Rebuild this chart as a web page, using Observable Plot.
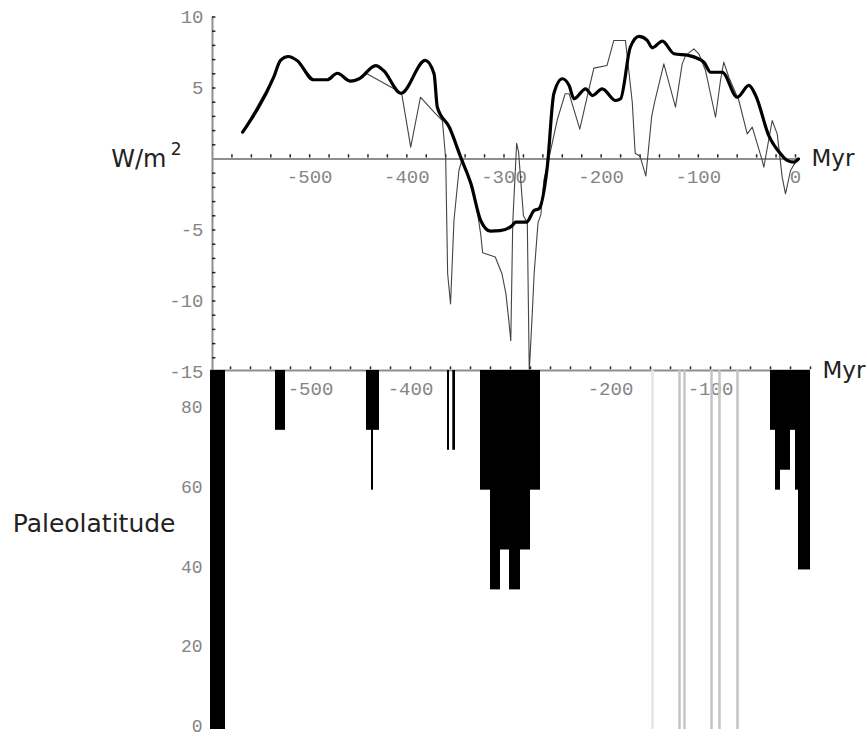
<!DOCTYPE html>
<html><head><meta charset="utf-8">
<script src="https://cdn.jsdelivr.net/npm/d3@7"></script>
<script src="https://cdn.jsdelivr.net/npm/@observablehq/plot@0.6"></script>
<style>
body{margin:0;background:#fff;}
#wrap{position:relative;width:867px;height:738px;overflow:hidden;background:#fff;}
#wrap svg{position:absolute;left:0;top:0;background:transparent;}
</style></head><body><div id="wrap"></div>
<script>
// ---- top panel: forcing (W/m^2) vs age (Myr) ----
const thickAge = [-569,-537,-530,-522,-513,-496,-482,-471.5,-458,-449,-432,-424,-406,-381,-372,-368.6,-356,-344.6,-334,-324,-314,-304,-291.5,-288,-277,-269,-264,-255.5,-248.7,-240,-233,-228,-216,-209,-199,-185,-180,-170,-161,-152.6,-147.4,-137,-125,-110,-94.3,-87.4,-75.4,-60,-48,-41,-27.5,-15.4,-8.5,-1.7,3];
const thickFlux = [1.89,5.76,6.94,7.22,6.94,5.58,5.58,6.04,5.48,5.65,6.58,6.23,4.63,6.94,6.0,3.65,2.2,0.13,-1.75,-4.33,-5.08,-5.05,-4.68,-4.45,-4.45,-3.63,-3.5,-0.58,4.6,5.65,5.18,4.24,4.94,4.47,4.94,4.12,4.24,7.87,8.63,8.35,7.83,8.3,7.41,7.29,6.82,6.11,6.11,4.35,5.18,4.47,1.65,0.37,-0.1,-0.22,0.01];

const thinAge = [-569,-537,-530,-522,-513,-496,-482,-471.5,-458,-449,-441,-410,-405,-396,-386,-372,-363.4,-360,-358,-355,-351.5,-346.4,-343,-336,-328,-324,-322,-309,-302,-298,-295,-293,-291,-287,-285,-280,-276,-274,-271,-269,-265,-262,-259,-252,-245,-237,-233,-222,-213,-207.5,-194,-187,-175,-168,-165,-160,-154,-148,-145,-135.5,-123.5,-116.6,-113,-104.6,-99.5,-92.6,-82.3,-77.2,-73.8,-68.6,-58.3,-49.7,-44.5,-34.3,-32.6,-24,-18.8,-13.7,-10.3,-5.1,0];
const thinFlux = [1.89,5.76,6.94,7.22,6.94,5.58,5.58,6.04,5.48,5.65,6.0,4.82,4.5,0.83,4.35,3.3,2.71,0.0,-8.08,-10.2,-4.33,-0.81,0.0,-1.4,-3.5,-5.27,-6.6,-6.9,-8.1,-9.5,-11.4,-12.8,-4.5,1.1,0.5,-4.0,-4.5,-15,-11,-8.1,-4.5,-3.9,-1.5,0.6,2.8,4.6,4.6,2.1,4.8,6.4,6.58,8.35,8.35,4.0,0.4,0.2,-1.2,3.0,4.0,6.7,3.65,6.7,7.3,7.76,7.41,6.23,2.94,5.53,6.82,5.76,4.12,1.77,2.24,-0.1,-0.58,2.71,1.77,-1.28,-2.45,-0.81,-0.22];

const topXTickLabels = [-500,-400,-300,-200,-100,0];
const topYTickLabels = [10,5,-5,-10,-15];

// ---- bottom panel: glacial paleolatitude ----
const barStart = [-600,-535,-444,-439,-363,-357.7,-330,-320,-310,-301,-290,-280,-40,-35,-30,-20,-15,-12];
const barEnd   = [-585,-525,-431,-437,-361,-355,-320,-310,-301,-290,-280,-270,-35,-30,-20,-15,-12,0];
const barLat   = [0,75,75,60,70,70,60,35,45,35,45,60,75,60,65,75,60,40];

const grayAge = [-158,-131,-126,-99,-91,-73];
const grayShade = ["#e4e4e4","#c4c4c4","#c4c4c4","#c4c4c4","#c4c4c4","#c4c4c4"];

const bottomXTickLabels = [-500,-400,-300,-200,-100];
const bottomYTickLabels = [0,20,40,60,80];

const minorX = d3.range(-580, 1, 20);
const minorY = d3.range(-15, 11, 1).filter(d => d !== 0);

const tickFont = "Liberation Mono, DejaVu Sans Mono, monospace";
const labelFont = "DejaVu Sans, sans-serif";
const tickColor = "#858585";
const axisColor = "#8e8e8e";

const wrap = document.getElementById("wrap");

const thick = thickAge.map((a,i)=>({age:a, flux:thickFlux[i]}));
const thin = thinAge.map((a,i)=>({age:a, flux:thinFlux[i]}));

const topPanel = Plot.plot({
  width: 867, height: 738,
  x: {domain: [-600, 0], range: [212, 795], axis: null},
  y: {domain: [-15, 10], range: [371.5, 16.5], axis: null},
  marks: [
    Plot.ruleX([-600], {y1: -15, y2: 10, stroke: axisColor, strokeWidth: 2}),
    Plot.ruleY([0], {x1: -600, x2: 5, stroke: axisColor, strokeWidth: 2}),
    Plot.ruleY(minorY, {y: d => d, x1: -600, x2: -596.5, stroke: "#222", strokeWidth: 1.5}),
    Plot.ruleX(minorX, {x: d => d, y1: 0.07, y2: 0.3, stroke: "#222", strokeWidth: 1.5}),
    Plot.text(topXTickLabels, {x: d => d, y: 0, text: d => String(d), dy: 18, fontFamily: tickFont, fontSize: 19, fill: tickColor}),
    Plot.text(topYTickLabels, {x: -600, y: d => d, text: d => String(d), dx: -9, textAnchor: "end", fontFamily: tickFont, fontSize: 19, fill: tickColor}),
    Plot.line(thin, {x: "age", y: "flux", stroke: "#444", strokeWidth: 1.1}),
    Plot.line(thick, {x: "age", y: "flux", stroke: "#000", strokeWidth: 3.2, curve: "monotone-x"}),
    Plot.text(["W/m"], {x: -600, y: 0, text: d => d, dx: -46, textAnchor: "end", fontFamily: labelFont, fontSize: 24, fill: "#222"}),
    Plot.text(["2"], {x: -600, y: 0, text: d => d, dx: -31, dy: -9, textAnchor: "end", fontFamily: labelFont, fontSize: 17, fill: "#222"}),
    Plot.text(["Myr"], {x: 0, y: 0, text: d => d, dx: 16, textAnchor: "start", fontFamily: labelFont, fontSize: 23, fill: "#222"})
  ]
});

const bars = barStart.map((s,i)=>({x1:s, x2:barEnd[i], lat:barLat[i]}));
const grays = grayAge.map((a,i)=>({age:a, c:grayShade[i]}));

const bottomPanel = Plot.plot({
  width: 867, height: 738,
  x: {domain: [-600, 0], range: [210, 810], axis: null},
  y: {domain: [0, 90], range: [729, 370], axis: null},
  marks: [
    Plot.ruleY([90], {x1: -600, x2: 0, stroke: axisColor, strokeWidth: 2}),
    Plot.ruleX(minorX, {x: d => d, y1: 90.2, y2: 90.9, stroke: "#222", strokeWidth: 1.5}),
    Plot.text(bottomXTickLabels, {x: d => d, y: 90, text: d => String(d), dy: 18, fontFamily: tickFont, fontSize: 19, fill: tickColor}),
    Plot.ruleX(grays, {x: "age", y1: 0, y2: 90, stroke: "c", strokeWidth: 2.5}),
    Plot.rect(bars, {x1: "x1", x2: "x2", y1: 90, y2: "lat", fill: "#000"}),
    Plot.text(bottomYTickLabels, {x: -600, y: d => d, text: d => String(d), dx: -8, dy: -3, textAnchor: "end", fontFamily: tickFont, fontSize: 18, fill: tickColor}),
    Plot.text(["Paleolatitude"], {x: -600, y: 51.5, text: d => d, dx: -35, textAnchor: "end", fontFamily: labelFont, fontSize: 25, fill: "#222"}),
    Plot.text(["Myr"], {x: 0, y: 90, text: d => d, dx: 12, textAnchor: "start", fontFamily: labelFont, fontSize: 23, fill: "#222"})
  ]
});

wrap.appendChild(topPanel);
wrap.appendChild(bottomPanel);
</script>
</body></html>
